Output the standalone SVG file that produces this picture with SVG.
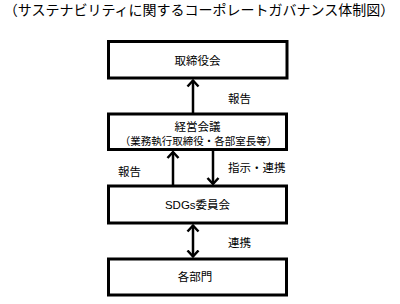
<svg xmlns="http://www.w3.org/2000/svg" width="400" height="304" viewBox="0 0 400 304">
<style>
text{font-family:"Liberation Sans","Noto Sans CJK JP",sans-serif;fill:#000;dominant-baseline:central}
.box{fill:#fff;stroke:#000;stroke-width:3}
.c{text-anchor:middle;font-size:11.5px}
.l{font-size:11.5px}
.con{stroke:#000;stroke-width:2.5;fill:none}
</style>
<defs>
<marker id="ah" markerUnits="userSpaceOnUse" viewBox="-7 -7 14 14" markerWidth="14" markerHeight="14" refX="0" refY="0" orient="auto-start-reverse">
<path d="M-6,-5.5 L0,0 L-6,5.5" fill="none" stroke="#000" stroke-width="2.5" stroke-linejoin="miter"/>
</marker>
</defs>
<rect width="400" height="304" fill="#fff"/>
<text x="199" y="9.5" text-anchor="middle" font-size="14">（サステナビリティに関するコーポレートガバナンス体制図）</text>
<g id="connectors">
<line class="con" x1="193" y1="113" x2="193" y2="80.5" marker-end="url(#ah)"/>
<line class="con" x1="173" y1="185" x2="173" y2="152" marker-end="url(#ah)"/>
<line class="con" x1="213" y1="151" x2="213" y2="184" marker-end="url(#ah)"/>
<line class="con" x1="193" y1="225.5" x2="193" y2="256.5" marker-start="url(#ah)" marker-end="url(#ah)"/>
<text class="l" x="228" y="98.5">報告</text>
<text class="l" x="118" y="172">報告</text>
<text class="l" x="228" y="168">指示・連携</text>
<text class="l" x="228" y="242.5">連携</text>
</g>
<g id="board">
<rect class="box" x="108.5" y="41.5" width="178.5" height="36.5"/>
<text class="c" x="197.5" y="60.5">取締役会</text>
</g>
<g id="management">
<rect class="box" x="108.5" y="114" width="178" height="35.5"/>
<text class="c" x="197.5" y="127">経営会議</text>
<text x="198.5" y="141" text-anchor="middle" font-size="10.5">（業務執行取締役・各部室長等）</text>
</g>
<g id="sdgs">
<rect class="box" x="108.5" y="186" width="178" height="37"/>
<text class="c" x="197.5" y="204.5">SDGs委員会</text>
</g>
<g id="departments">
<rect class="box" x="108.5" y="259" width="178" height="36"/>
<text class="c" x="195" y="277">各部門</text>
</g>
</svg>
